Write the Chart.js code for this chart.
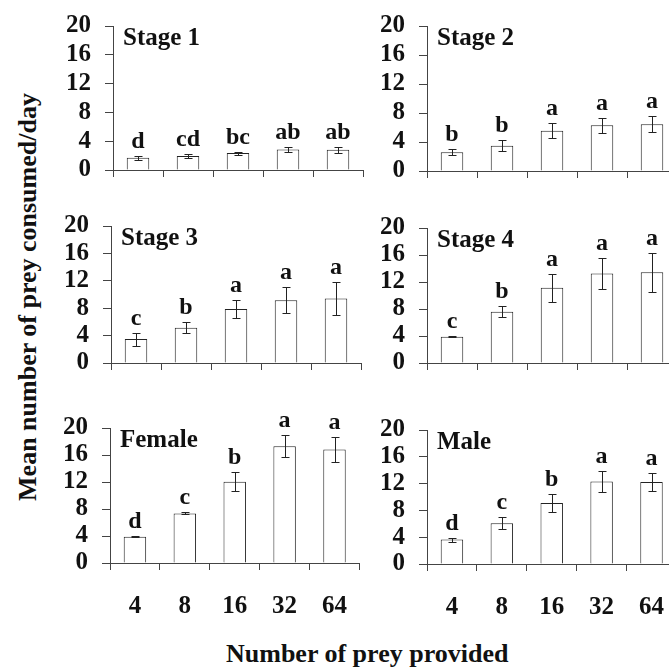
<!DOCTYPE html>
<html><head><meta charset="utf-8">
<script src="https://cdn.jsdelivr.net/npm/chart.js@4.4.1/dist/chart.umd.min.js"></script>
<style>
html,body{margin:0;padding:0;background:#fff;overflow:hidden;width:669px;height:671px;}
#wrap{position:relative;width:669px;height:671px;overflow:hidden;background:#fff;}
canvas{position:absolute;}
.t{position:absolute;font-family:'Liberation Serif','Times New Roman',serif;font-weight:bold;color:#111;white-space:nowrap;font-size:26px;line-height:26px;}
</style></head><body>
<div id="wrap">
<div class="t" id="ytitle">Mean number of prey consumed/day</div>
<div class="t" id="xtitle">Number of prey provided</div>
</div>
<script>
const categories = ['4', '8', '16', '32', '64'];
const panelNames = ['Stage 1', 'Stage 2', 'Stage 3', 'Stage 4', 'Female', 'Male'];
const yMin = 0, yMax = 20, yStep = 4;

const stage1Means = [1.7, 1.95, 2.35, 2.85, 2.8];
const stage1Errors = [0.3, 0.3, 0.2, 0.4, 0.4];
const stage1Letters = ['d', 'cd', 'bc', 'ab', 'ab'];

const stage2Means = [2.6, 3.5, 5.55, 6.3, 6.45];
const stage2Errors = [0.45, 0.75, 1.05, 1.05, 1.1];
const stage2Letters = ['b', 'b', 'a', 'a', 'a'];

const stage3Means = [3.5, 5.15, 7.9, 9.15, 9.4];
const stage3Errors = [0.95, 0.8, 1.3, 1.9, 2.4];
const stage3Letters = ['c', 'b', 'a', 'a', 'a'];

const stage4Means = [3.9, 7.6, 11.15, 13.25, 13.45];
const stage4Errors = [0.1, 0.85, 2.1, 2.35, 2.9];
const stage4Letters = ['c', 'b', 'a', 'a', 'a'];

const femaleMeans = [3.9, 7.35, 12.05, 17.3, 16.8];
const femaleErrors = [0.1, 0.15, 1.4, 1.65, 1.9];
const femaleLetters = ['d', 'c', 'b', 'a', 'a'];

const maleMeans = [3.65, 6.1, 9.1, 12.3, 12.25];
const maleErrors = [0.3, 0.85, 1.4, 1.55, 1.3];
const maleLetters = ['d', 'c', 'b', 'a', 'a'];

const panelData = [
  [stage1Means, stage1Errors, stage1Letters],
  [stage2Means, stage2Errors, stage2Letters],
  [stage3Means, stage3Errors, stage3Letters],
  [stage4Means, stage4Errors, stage4Letters],
  [femaleMeans, femaleErrors, femaleLetters],
  [maleMeans, maleErrors, maleLetters]
];

// layout (page pixels): plot-area left, top (y=20), bottom (y=0)
const panelLayout = [
  {left: 113, top: 26, bottom: 170, xLabels: false},
  {left: 427, top: 26, bottom: 171, xLabels: false},
  {left: 111, top: 226, bottom: 363, xLabels: false},
  {left: 427, top: 228, bottom: 363, xLabels: false},
  {left: 110, top: 428, bottom: 563, xLabels: true},
  {left: 427, top: 430, bottom: 564, xLabels: true}
];

const FONT = "'Liberation Serif','Times New Roman',serif";
const INK = '#111';
const AXIS = '#444';

const annotPlugin = {
  id: 'annot',
  afterDatasetsDraw(chart, args, opts) {
    const ctx = chart.ctx, y = chart.scales.y;
    const ds = chart.data.datasets[0];
    const meta = chart.getDatasetMeta(0);
    ctx.save();
    ctx.strokeStyle = '#222';
    ctx.lineWidth = 1;
    meta.data.forEach((bar, i) => {
      const m = ds.data[i], e = ds.errors[i];
      const yt = Math.round(y.getPixelForValue(m + e)) + 0.5;
      const yb = Math.round(y.getPixelForValue(m - e)) + 0.5;
      const x = Math.round(bar.x) + 0.5;
      ctx.beginPath();
      ctx.moveTo(x, yt); ctx.lineTo(x, yb);
      ctx.moveTo(x - 4, yt); ctx.lineTo(x + 4, yt);
      ctx.moveTo(x - 4, yb); ctx.lineTo(x + 4, yb);
      ctx.stroke();
      ctx.fillStyle = INK;
      ctx.font = 'bold 24px ' + FONT;
      ctx.textAlign = 'center';
      ctx.textBaseline = 'alphabetic';
      ctx.fillText(ds.letters[i], bar.x, yt - 9);
    });
    ctx.fillStyle = INK;
    ctx.font = 'bold 25px ' + FONT;
    ctx.textAlign = 'left';
    ctx.textBaseline = 'alphabetic';
    ctx.fillText(opts.title, chart.chartArea.left + 10, chart.chartArea.top + 19);
    ctx.restore();
  }
};

const wrap = document.getElementById('wrap');
const PAD_L = 110, PAD_T = 40, PLOT_W = 250, PAD_R = 10;

panelLayout.forEach((pl, idx) => {
  const bottomH = pl.xLabels ? 70 : 32;
  const plotH = pl.bottom - pl.top;
  const cv = document.createElement('canvas');
  const w = PAD_L + PLOT_W + PAD_R;
  const h = PAD_T + plotH + bottomH;
  cv.width = w; cv.height = h;
  cv.style.width = w + 'px'; cv.style.height = h + 'px';
  cv.style.left = (pl.left - PAD_L) + 'px';
  cv.style.top = (pl.top - PAD_T) + 'px';
  wrap.appendChild(cv);
  const [means, errs, letters] = panelData[idx];
  new Chart(cv.getContext('2d'), {
    type: 'bar',
    data: {
      labels: categories,
      datasets: [{
        data: means,
        errors: errs,
        letters: letters,
        backgroundColor: '#ffffff',
        borderColor: '#222',
        borderWidth: 1,
        barPercentage: 0.45,
        categoryPercentage: 1
      }]
    },
    options: {
      responsive: false,
      animation: false,
      devicePixelRatio: 1,
      layout: {padding: {left: 0, top: PAD_T, right: PAD_R, bottom: 0}},
      plugins: {legend: {display: false}, tooltip: {enabled: false}, annot: {title: panelNames[idx]}},
      scales: {
        y: {
          min: yMin, max: yMax,
          ticks: {stepSize: yStep, autoSkip: false, color: INK, padding: 14, font: {family: FONT, size: 25, weight: 'bold', lineHeight: 1}},
          grid: {drawOnChartArea: false, drawTicks: true, tickLength: 8, color: AXIS, lineWidth: 1},
          border: {display: true, color: AXIS, width: 1},
          afterFit: s => { s.width = PAD_L; }
        },
        x: {
          offset: true,
          ticks: {display: pl.xLabels, autoSkip: false, color: INK, padding: 22, font: {family: FONT, size: 25, weight: 'bold'}, maxRotation: 0},
          grid: {offset: true, drawOnChartArea: false, drawTicks: true, tickLength: 7, color: AXIS, lineWidth: 1},
          border: {display: true, color: AXIS, width: 1},
          afterFit: s => { s.height = bottomH; }
        }
      }
    },
    plugins: [annotPlugin]
  });
});

// axis titles
const yt = document.getElementById('ytitle');
const ytw = yt.offsetWidth;
yt.style.left = (28 - ytw / 2) + 'px';
yt.style.top = (297 - 13) + 'px';
yt.style.transform = 'rotate(-90deg)';
yt.style.transformOrigin = '50% 50%';
const xt = document.getElementById('xtitle');
xt.style.left = (367 - xt.offsetWidth / 2) + 'px';
xt.style.top = '641px';
</script>
</body></html>
